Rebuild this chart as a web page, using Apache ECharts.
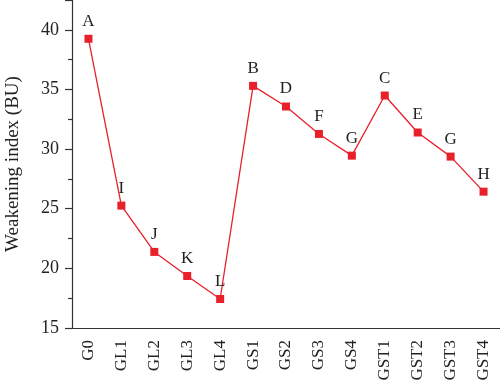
<!DOCTYPE html>
<html>
<head>
<meta charset="utf-8">
<script src="https://cdn.jsdelivr.net/npm/echarts@6/dist/echarts.min.js"></script>
<style>
  html, body { margin: 0; padding: 0; background: #fff; }
  #chart { width: 500px; height: 383px; }
</style>
</head>
<body>
<div id="chart"></div>
<script>
const categories = ['G0', 'GL1', 'GL2', 'GL3', 'GL4', 'GS1', 'GS2', 'GS3', 'GS4', 'GST1', 'GST2', 'GST3', 'GST4'];
const weakeningIndex = [39.25, 25.26, 21.38, 19.36, 17.43, 35.3, 33.57, 31.27, 29.45, 34.49, 31.39, 29.37, 26.43];
const groupLetters = ['A', 'I', 'J', 'K', 'L', 'B', 'D', 'F', 'G', 'C', 'E', 'G', 'H'];

const chart = echarts.init(document.getElementById('chart'));
const font = '"Liberation Serif", "DejaVu Serif", serif';
const axisColor = '#333';

chart.setOption({
  backgroundColor: '#fff',
  animation: false,
  grid: { left: 72, right: 0, top: 0, bottom: 55, outerBoundsMode: 'none', containLabel: false },
  xAxis: {
    type: 'category',
    data: categories,
    axisLine: { lineStyle: { color: axisColor, width: 1.2 } },
    axisTick: { alignWithLabel: true, length: 6, lineStyle: { color: axisColor, width: 1.2 } },
    axisLabel: {
      rotate: 90,
      color: '#222',
      fontFamily: font,
      fontSize: 17,
      margin: 12
    }
  },
  yAxis: {
    type: 'value',
    min: 15,
    max: 42.5,
    interval: 5,
    name: 'Weakening index (BU)',
    nameLocation: 'middle',
    nameGap: 49,
    nameTextStyle: { color: '#222', fontFamily: font, fontSize: 19 },
    axisLine: { show: true, lineStyle: { color: axisColor, width: 1.2 } },
    axisTick: { show: true, length: 7, lineStyle: { color: axisColor, width: 1.2 } },
    minorTick: { show: true, splitNumber: 2, length: 4, lineStyle: { color: axisColor, width: 1.2 } },
    splitLine: { show: false },
    axisLabel: {
      showMaxLabel: false,
      color: '#222',
      fontFamily: font,
      fontSize: 18,
      margin: 13
    }
  },
  series: [{
    type: 'line',
    data: weakeningIndex,
    symbol: 'rect',
    symbolSize: 8,
    lineStyle: { color: '#e8202a', width: 1.3 },
    itemStyle: { color: '#e8202a' },
    label: {
      show: true,
      position: 'top',
      distance: 5,
      color: '#222',
      fontFamily: font,
      fontSize: 17,
      formatter: (p) => groupLetters[p.dataIndex]
    }
  }]
});
</script>
</body>
</html>
